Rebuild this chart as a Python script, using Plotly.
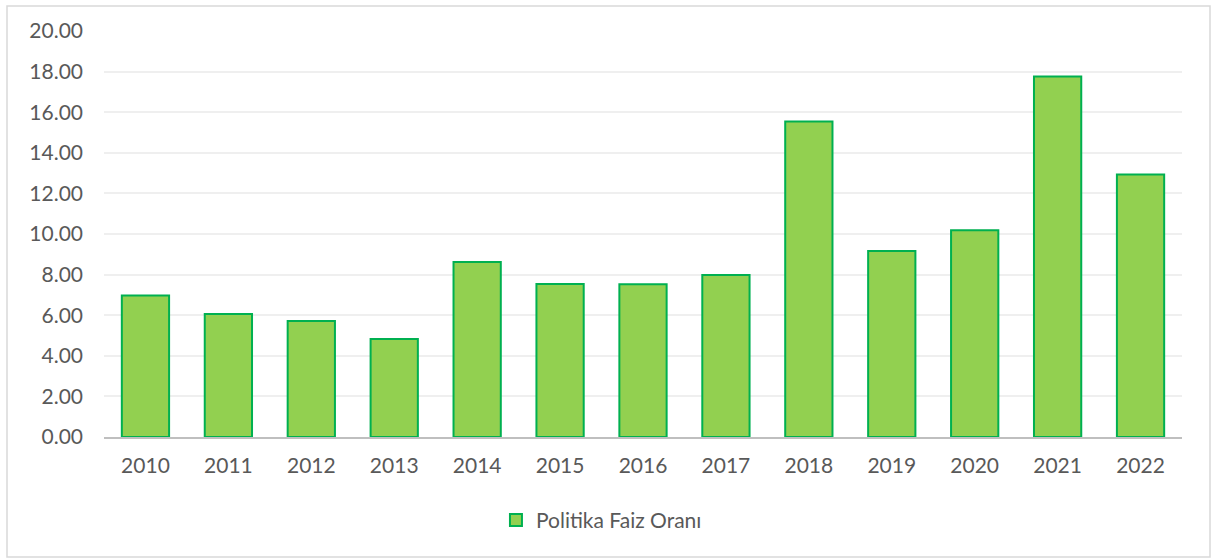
import plotly.graph_objects as go

years = ["2010", "2011", "2012", "2013", "2014", "2015", "2016", "2017", "2018", "2019", "2020", "2021", "2022"]
rates = [6.97, 6.06, 5.72, 4.83, 8.62, 7.54, 7.53, 7.98, 15.54, 9.16, 10.19, 17.76, 12.93]
series_name = "Politika Faiz Oranı"
y_ticks = [0, 2, 4, 6, 8, 10, 12, 14, 16, 18, 20]

W, H = 1213, 560
ml, mr, mt, mb = 104, 31, 31, 123

fig = go.Figure()
fig.add_trace(go.Bar(
    x=years, y=rates, name=series_name,
    marker=dict(color="#92d050", line=dict(color="#00b050", width=2)),
    showlegend=True,
))

pw = W - ml - mr
ph = H - mt - mb
fig.add_shape(type="rect", xref="paper", yref="paper",
              x0=(7 - ml) / pw, x1=(1210 - ml) / pw,
              y0=(H - mb - 557) / ph, y1=(H - mb - 6) / ph,
              line=dict(color="#d9d9d9", width=1.5), fillcolor="rgba(0,0,0,0)", layer="below")

fig.update_layout(
    width=W, height=H,
    margin=dict(l=ml, r=mr, t=mt, b=mb),
    plot_bgcolor="white", paper_bgcolor="white",
    font=dict(family="Lato, Carlito, sans-serif", size=21, color="#595959"),
    bargap=0.43,
    xaxis=dict(showgrid=False, showline=True, linecolor="#bfbfbf", linewidth=2,
               ticks="", tickfont=dict(size=21, color="#595959"), ticklabelstandoff=9),
    yaxis=dict(range=[0, 20], tickvals=y_ticks, tickformat=".2f",
               showgrid=True, gridcolor="#efefef", gridwidth=1.5,
               zeroline=False, showline=False, ticks="",
               tickfont=dict(size=21, color="#595959"), ticklabelstandoff=20),
    legend=dict(orientation="h", x=0.3636, xanchor="left", y=-0.205, yanchor="middle",
                font=dict(size=21, color="#595959"), itemwidth=30),
)

fig.write_html("out.html", config={"displayModeBar": False},
               post_script="document.body.style.margin='0';document.body.style.padding='0';")
